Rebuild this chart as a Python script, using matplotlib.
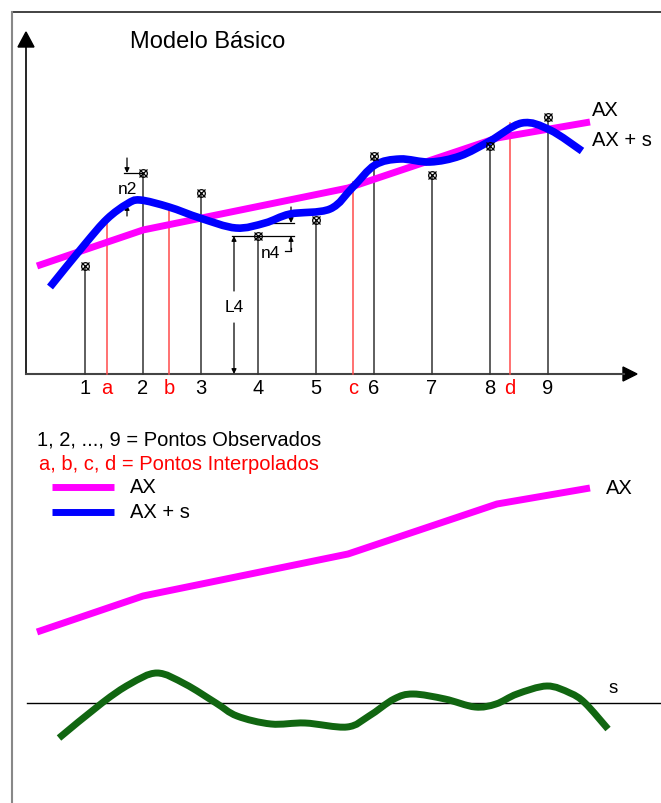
import numpy as np
import matplotlib.pyplot as plt
from matplotlib.path import Path
from matplotlib.patches import PathPatch, Polygon

plt.rcParams['font.family'] = ['Liberation Sans', 'DejaVu Sans']

# diagram read in pixel units (x to the right, y downwards)
base_y = 375  # x axis of the upper diagram

obs_labels = ["1", "2", "3", "4", "5", "6", "7", "8", "9"]
obs_x = [85, 143, 201, 258, 316, 374, 432, 490, 548]
obs_y = [267, 174, 194, 237, 221, 157, 176, 147, 118]

interp_labels = ["a", "b", "c", "d"]
interp_x = [107, 169, 353, 510]
interp_y = [218, 206, 183, 124]

ax_x = [37, 143, 348, 497, 590]       # AX (trend), upper diagram
ax_y = [267, 231, 189, 139, 123]
ax_shift = 366                         # same AX drawn again lower down

axs_x = [50, 85, 107, 127, 140, 169, 200, 236, 265, 290, 330, 353, 375, 400,
         430, 460, 490, 522, 550, 582]  # AX + s
axs_y = [288, 245, 220, 205, 201, 208, 219, 229, 224, 215, 210, 188, 166, 160,
         163, 157, 142, 124, 131, 152]

s_base = 704                           # zero line of s
s_x = [59, 102, 130, 157, 185, 216, 237, 271, 305, 347, 369, 394, 413, 445,
       475, 496, 517, 547, 570, 585, 608]
s_y = [739, 704, 685, 674, 685, 704, 717, 725, 724, 728, 717, 700, 695, 700,
       708, 705, 695, 687, 694, 704, 730]


def smooth_path(xs, ys):
    # Catmull-Rom knots turned into cubic bezier segments
    p = np.column_stack([xs, ys]).astype(float)
    p = np.vstack([p[0], p, p[-1]])
    verts = [p[1]]
    codes = [Path.MOVETO]
    for i in range(1, len(p) - 2):
        c1 = p[i] + (p[i + 1] - p[i - 1]) / 6
        c2 = p[i + 1] - (p[i + 2] - p[i]) / 6
        verts += [c1, c2, p[i + 1]]
        codes += [Path.CURVE4] * 3
    return Path(verts, codes)


fs = 14.5  # main text size

fig = plt.figure(figsize=(6.61, 8.04), dpi=100)
ax = fig.add_axes([0, 0, 1, 1])
ax.set_xlim(0, 661)
ax.set_ylim(804, 0)
ax.axis("off")

# frame
ax.plot([12, 661], [13, 13], color="#222222", lw=1.2)
ax.plot([12, 12], [13, 804], color="#888888", lw=1.5)

# axes with arrow heads
ax.plot([26, 26], [base_y, 45], color="black", lw=1.2)
ax.plot([26, 624], [base_y, base_y], color="#444444", lw=1.5)
ax.add_patch(Polygon([[26, 33], [18, 48], [34, 48]], closed=True, color="black"))
ax.add_patch(Polygon([[637, base_y], [623, base_y - 7], [623, base_y + 7]],
                     closed=True, color="black"))

ax.text(208, 42, "Modelo Básico", fontsize=17, ha="center", va="center")

# stems of observed and interpolated points
for lab, x, y in zip(obs_labels, obs_x, obs_y):
    ax.plot([x, x], [y, base_y], color="#333333", lw=1.1, zorder=2)
    ax.text(x, 389, lab, fontsize=fs, ha="center", va="center")
for lab, x, y in zip(interp_labels, interp_x, interp_y):
    ax.plot([x, x], [y, base_y], color="#ff4a4a", lw=1.1, zorder=2)
    ax.text(x, 389, lab, fontsize=fs, ha="center", va="center", color="red")

# AX and AX + s, upper diagram
ax.plot(ax_x, ax_y, color="#ff00ff", lw=5, solid_capstyle="butt", zorder=3)
ax.add_patch(PathPatch(smooth_path(axs_x, axs_y), fill=False, edgecolor="#0000ff",
                       lw=5.5, capstyle="butt", zorder=4))
ax.plot(obs_x, obs_y, ls="none", marker="o", ms=5.5, mfc="none", mec="black",
        mew=0.9, zorder=5)
ax.plot(obs_x, obs_y, ls="none", marker="x", ms=5.5, mec="black", mew=0.9, zorder=5)
ax.text(592, 111, "AX", fontsize=fs, va="center")
ax.text(592, 140, "AX + s", fontsize=fs, va="center")

# n2 dimension
arw = dict(arrowstyle="-|>", color="black", lw=0.9, mutation_scale=7,
           shrinkA=0, shrinkB=0)
ax.plot([124, obs_x[1]], [obs_y[1], obs_y[1]], color="black", lw=0.9)
ax.annotate("", xy=(127, obs_y[1]), xytext=(127, 159), arrowprops=arw)
ax.annotate("", xy=(127, 206), xytext=(127, 217), arrowprops=arw)
ax.text(127, 189, "n2", fontsize=12.5, ha="center", va="center")

# n4 and L4 dimensions
ax.plot([232, 294], [obs_y[3], obs_y[3]], color="black", lw=0.9)
ax.plot([272, 294], [224, 224], color="black", lw=0.9)
ax.annotate("", xy=(291, 224), xytext=(291, 208), arrowprops=arw)
ax.annotate("", xy=(291, obs_y[3]), xytext=(291, 251), arrowprops=arw)
ax.plot([291, 291, 285], [249, 252, 252], color="black", lw=0.9)
ax.text(270, 253, "n4", fontsize=12.5, ha="center", va="center")
ax.annotate("", xy=(234, obs_y[3]), xytext=(234, 292), arrowprops=arw)
ax.annotate("", xy=(234, base_y), xytext=(234, 324), arrowprops=arw)
ax.text(234, 308, "L4", fontsize=12.5, ha="center", va="center")

# legend block
ax.text(37, 440, "1, 2, ..., 9 = Pontos Observados", fontsize=fs, va="center")
ax.text(39, 465, "a, b, c, d = Pontos Interpolados", fontsize=fs, va="center",
        color="red")
ax.plot([52, 114], [488, 488], color="#ff00ff", lw=5, solid_capstyle="butt")
ax.plot([52, 114], [513, 513], color="#0000ff", lw=5, solid_capstyle="butt")
ax.text(130, 488, "AX", fontsize=fs, va="center")
ax.text(130, 513, "AX + s", fontsize=fs, va="center")

# lower diagram: AX and s
ax.plot(ax_x, [y + ax_shift for y in ax_y], color="#ff00ff", lw=5,
        solid_capstyle="butt")
ax.text(606, 489, "AX", fontsize=fs, va="center")
ax.plot([27, 661], [s_base, s_base], color="black", lw=1)
ax.add_patch(PathPatch(smooth_path(s_x, s_y), fill=False, edgecolor="#116611",
                       lw=5, capstyle="butt", zorder=4))
ax.text(609, 689, "s", fontsize=13.5, va="center")

fig.savefig("out.png", dpi=100)
